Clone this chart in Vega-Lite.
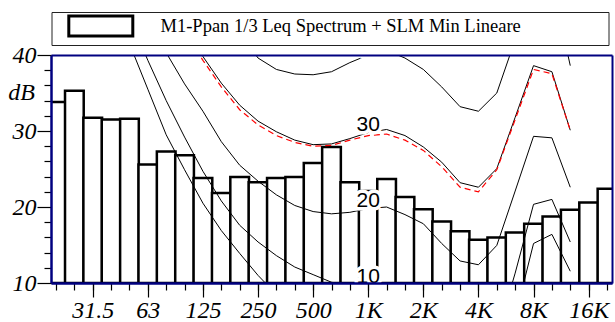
{
  "$schema": "https://vega.github.io/schema/vega-lite/v6.json",
  "width": 561,
  "height": 228,
  "autosize": {"type": "none"},
  "padding": {"left": 51, "top": 55, "right": 3, "bottom": 39},
  "background": "white",
  "config": {"view": {"stroke": null}},
  "datasets": {
    "bands": [
      {"i": 0, "level": 33.8}, {"i": 1, "level": 35.3}, {"i": 2, "level": 31.75}, {"i": 3, "level": 31.5},
      {"i": 4, "level": 31.6}, {"i": 5, "level": 25.6}, {"i": 6, "level": 27.3}, {"i": 7, "level": 26.8},
      {"i": 8, "level": 23.8}, {"i": 9, "level": 21.85}, {"i": 10, "level": 23.95}, {"i": 11, "level": 23.25},
      {"i": 12, "level": 23.8}, {"i": 13, "level": 23.95}, {"i": 14, "level": 25.8}, {"i": 15, "level": 27.9},
      {"i": 16, "level": 23.25}, {"i": 17, "level": 22.1}, {"i": 18, "level": 23.7}, {"i": 19, "level": 21.3},
      {"i": 20, "level": 19.7}, {"i": 21, "level": 18.1}, {"i": 22, "level": 16.8}, {"i": 23, "level": 15.7},
      {"i": 24, "level": 16.0}, {"i": 25, "level": 16.65}, {"i": 26, "level": 17.8}, {"i": 27, "level": 18.75},
      {"i": 28, "level": 19.65}, {"i": 29, "level": 20.6}, {"i": 30, "level": 22.4}
    ],
    "curves": [
      {"i": 0, "p0": 72, "p10": 80, "p20": 73, "p30": 79, "p40": 90, "slm": 78.5},
      {"i": 1, "p0": 63, "p10": 70, "p20": 66, "p30": 73, "p40": 85, "slm": 72.5},
      {"i": 2, "p0": 55, "p10": 62, "p20": 60, "p30": 67, "p40": 80, "slm": 66.5},
      {"i": 3, "p0": 48, "p10": 53, "p20": 54, "p30": 62, "p40": 75, "slm": 61.5},
      {"i": 4, "p0": 41.5, "p10": 45, "p20": 49, "p30": 57, "p40": 70, "slm": 56.5},
      {"i": 5, "p0": 35.5, "p10": 39.3, "p20": 44.5, "p30": 52, "p40": 65, "slm": 51.5},
      {"i": 6, "p0": 29.5, "p10": 34.0, "p20": 40.3, "p30": 47.5, "p40": 60, "slm": 47},
      {"i": 7, "p0": 24.9, "p10": 29.2, "p20": 36.2, "p30": 43.5, "p40": 56, "slm": 43.0},
      {"i": 8, "p0": 20.5, "p10": 24.7, "p20": 32.6, "p30": 39.8, "p40": 52, "slm": 39.3},
      {"i": 9, "p0": 16.9, "p10": 20.8, "p20": 28.6, "p30": 36.3, "p40": 47.5, "slm": 35.8},
      {"i": 10, "p0": 13.9, "p10": 17.6, "p20": 25.5, "p30": 33.4, "p40": 42.9, "slm": 32.8},
      {"i": 11, "p0": 11.0, "p10": 15.4, "p20": 23.4, "p30": 31.3, "p40": 39.6, "slm": 30.8},
      {"i": 12, "p0": 8.5, "p10": 13.6, "p20": 21.6, "p30": 29.9, "p40": 38.1, "slm": 29.4},
      {"i": 13, "p0": 6.3, "p10": 12.1, "p20": 20.2, "p30": 28.8, "p40": 37.5, "slm": 28.5},
      {"i": 14, "p0": 4.5, "p10": 11.1, "p20": 19.4, "p30": 28.2, "p40": 37.4, "slm": 28.0},
      {"i": 15, "p0": 3.2, "p10": 10.1, "p20": 19.1, "p30": 28.3, "p40": 37.8, "slm": 28.1},
      {"i": 16, "p0": 2.5, "p10": 9.6, "p20": 19.3, "p30": 29.0, "p40": 39.0, "slm": 28.8},
      {"i": 17, "p0": 2.5, "p10": 9.8, "p20": 19.8, "p30": 29.8, "p40": 40.0, "slm": 29.4},
      {"i": 18, "p0": 3.0, "p10": 9.9, "p20": 20.0, "p30": 30.2, "p40": 40.6, "slm": 29.6},
      {"i": 19, "p0": 1.5, "p10": 8.8, "p20": 19.0, "p30": 29.4, "p40": 39.6, "slm": 28.8},
      {"i": 20, "p0": -1.5, "p10": 6.3, "p20": 17.8, "p30": 27.9, "p40": 38.1, "slm": 27.45},
      {"i": 21, "p0": -4, "p10": 3.5, "p20": 15.2, "p30": 25.9, "p40": 35.8, "slm": 25.3},
      {"i": 22, "p0": -6, "p10": 1.0, "p20": 12.9, "p30": 23.2, "p40": 33.2, "slm": 22.6},
      {"i": 23, "p0": -6, "p10": 0.5, "p20": 12.4, "p30": 22.6, "p40": 32.6, "slm": 22.0},
      {"i": 24, "p0": -3, "p10": 3.0, "p20": 14.95, "p30": 25.05, "p40": 35.0, "slm": 24.9},
      {"i": 25, "p0": 5.5, "p10": 11.3, "p20": 22.1, "p30": 31.8, "p40": 42.0, "slm": 31.5},
      {"i": 26, "p0": 15.2, "p10": 20.35, "p20": 29.3, "p30": 38.6, "p40": 48.5, "slm": 38.1},
      {"i": 27, "p0": 16.4, "p10": 21.0, "p20": 29.1, "p30": 37.8, "p40": 49.5, "slm": 37.55},
      {"i": 28, "p0": 11.55, "p10": 15.4, "p20": 22.6, "p30": 30.1, "p40": 38.6, "slm": 30.1}
    ],
    "labels": [
      {"i": 17, "v": 40, "t": "40"},
      {"i": 17, "v": 30, "t": "30"},
      {"i": 17, "v": 20, "t": "20"},
      {"i": 17, "v": 10, "t": "10"}
    ]
  },
  "layer": [
    {
      "data": {"name": "bands"},
      "mark": {"type": "bar", "width": 18.7, "stroke": "black", "strokeWidth": 2.5, "clip": true},
      "encoding": {
        "x": {
          "field": "i", "type": "quantitative",
          "scale": {"domain": [0, 30], "nice": false, "zero": false},
          "axis": {"orient": "bottom", "values": [0,1,2,3,4,5,6,7,8,9,10,11,12,13,14,15,16,17,18,19,20,21,22,23,24,25,26,27,28,29,30],
                   "labels": false, "tickSize": 7, "tickColor": "black", "tickWidth": 1.2, "domainColor": "#000080", "domainWidth": 2,
                   "grid": false, "title": null, "zindex": 1}
        },
        "y": {
          "field": "level", "type": "quantitative",
          "scale": {"domain": [10, 40], "nice": false, "zero": false},
          "axis": {"orient": "left", "values": [12,14,16,18,22,24,26,28,32,34,36,38],
                   "labels": false, "tickSize": 7, "tickColor": "black", "tickWidth": 1.2, "domainColor": "#000080", "domainWidth": 2,
                   "grid": false, "title": null, "zindex": 1}
        },
        "y2": {"datum": 10},
        "fill": {
          "datum": "M1-Ppan 1/3 Leq Spectrum + SLM Min Lineare", "type": "nominal",
          "scale": {"range": ["white"]},
          "legend": {
            "orient": "none", "legendX": 0.5, "legendY": -43,
            "title": "|", "titleOrient": "right", "titlePadding": 82, "titleFontSize": 10, "titleOpacity": 0,
            "padding": 2.5, "strokeColor": "#222222", "fillColor": "white",
            "symbolType": "M-3.2,-1H3.2V1H-3.2Z", "symbolSize": 400,
            "symbolStrokeColor": "black", "symbolStrokeWidth": 3, "symbolFillColor": "white",
            "symbolOffset": 35.3, "labelOffset": 48.2, "labelLimit": 1000,
            "labelFont": "Liberation Serif", "labelFontSize": 18.5, "labelColor": "black"
          }
        }
      }
    },
    {
      "data": {"name": "curves"},
      "transform": [{"fold": ["p0", "p10", "p20", "p30", "p40"], "as": ["curve", "v"]}],
      "mark": {"type": "line", "color": "black", "strokeWidth": 1, "clip": true},
      "encoding": {
        "x": {
          "field": "i", "type": "quantitative",
          "scale": {"domain": [0, 30], "nice": false, "zero": false},
          "axis": {"orient": "bottom", "values": [2,5,8,11,14,17,20,23,26,29],
                   "labelExpr": "['31.5','63','125','250','500','1K','2K','4K','8K','16K'][round((datum.value-2)/3)]",
                   "tickSize": 14, "tickColor": "black", "tickWidth": 1.2, "domainColor": "#000080", "domainWidth": 2,
                   "labelFont": "Liberation Serif", "labelFontStyle": "italic", "labelFontSize": 24, "labelColor": "black",
                   "labelPadding": 1, "labelAngle": 0, "labelOverlap": false, "labelFlush": false,
                   "grid": false, "title": null, "zindex": 1}
        },
        "y": {
          "field": "v", "type": "quantitative",
          "scale": {"domain": [10, 40], "nice": false, "zero": false},
          "axis": {"orient": "left", "values": [10, 20, 30, 40],
                   "tickSize": 14, "tickColor": "black", "tickWidth": 1.2, "domainColor": "#000080", "domainWidth": 2,
                   "labelFont": "Liberation Serif", "labelFontStyle": "italic", "labelFontSize": 24, "labelColor": "black",
                   "labelPadding": 1, "labelOverlap": false, "labelFlush": false,
                   "grid": false, "zindex": 1,
                   "title": "dB", "titleAngle": 0, "titleFont": "Liberation Serif", "titleFontStyle": "italic",
                   "titleFontSize": 24, "titleFontWeight": "normal", "titleColor": "black",
                   "titleAlign": "center", "titleBaseline": "middle", "titleX": -30, "titleY": 37}
        },
        "detail": {"field": "curve"}
      }
    },
    {
      "data": {"name": "curves"},
      "mark": {"type": "line", "color": "#ff0000", "strokeWidth": 1.2, "strokeDash": [6, 4], "clip": true},
      "encoding": {
        "x": {
          "field": "i", "type": "quantitative",
          "scale": {"domain": [0, 30], "nice": false, "zero": false},
          "axis": {"orient": "top", "labels": false, "ticks": false, "grid": false, "title": null,
                   "domainColor": "#000080", "domainWidth": 2, "zindex": 1}
        },
        "y": {
          "field": "slm", "type": "quantitative",
          "scale": {"domain": [10, 40], "nice": false, "zero": false},
          "axis": {"orient": "right", "labels": false, "ticks": false, "grid": false, "title": null,
                   "domainColor": "#000080", "domainWidth": 2, "zindex": 1}
        }
      }
    },
    {
      "data": {"name": "labels"},
      "mark": {"type": "text", "font": "Liberation Sans", "fontSize": 21, "align": "center", "baseline": "alphabetic",
               "stroke": "white", "strokeWidth": 7, "fill": "white", "clip": true},
      "encoding": {
        "x": {"field": "i", "type": "quantitative", "scale": {"domain": [0, 30], "nice": false, "zero": false}, "axis": null},
        "y": {"field": "v", "type": "quantitative", "scale": {"domain": [10, 40], "nice": false, "zero": false}, "axis": null},
        "text": {"field": "t"}
      }
    },
    {
      "data": {"name": "labels"},
      "mark": {"type": "text", "font": "Liberation Sans", "fontSize": 21, "align": "center", "baseline": "alphabetic",
               "fill": "black", "clip": true},
      "encoding": {
        "x": {"field": "i", "type": "quantitative", "scale": {"domain": [0, 30], "nice": false, "zero": false}, "axis": null},
        "y": {"field": "v", "type": "quantitative", "scale": {"domain": [10, 40], "nice": false, "zero": false}, "axis": null},
        "text": {"field": "t"}
      }
    }
  ],
  "resolve": {"axis": {"x": "independent", "y": "independent"}}
}
